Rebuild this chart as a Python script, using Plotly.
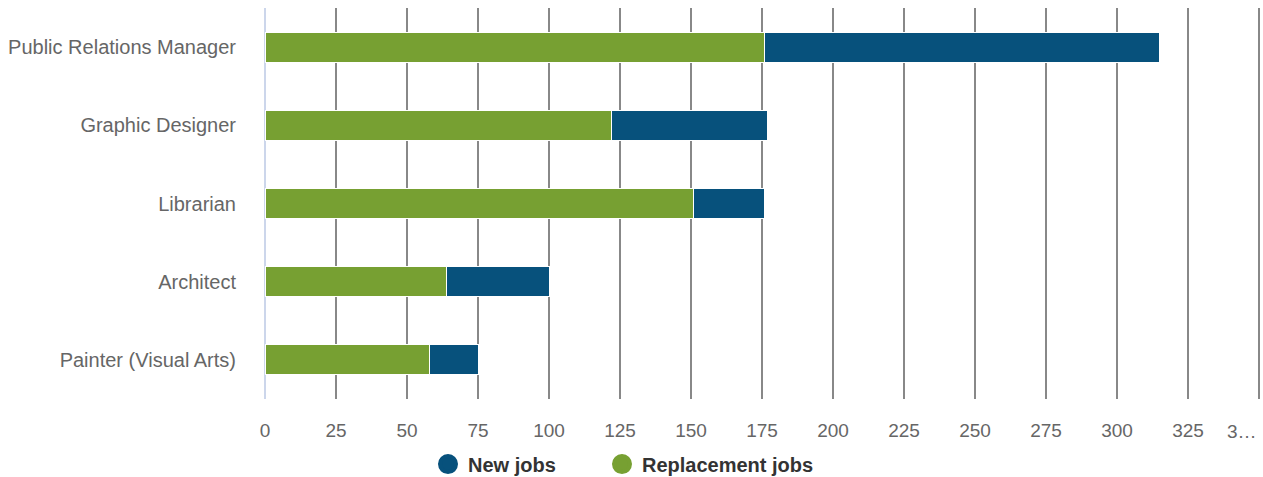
import plotly.graph_objects as go

occupations = [
    "Public Relations Manager",
    "Graphic Designer",
    "Librarian",
    "Architect",
    "Painter (Visual Arts)",
]
replacement_jobs = [176, 122, 151, 64, 58]
new_jobs = [139, 55, 25, 36, 17]

tick_values = list(range(0, 351, 25))
tick_labels = [str(v) for v in tick_values[:-1]] + [""]
last_tick_label = "3…"

GREEN = "#77a032"
BLUE = "#07517c"
FONT = "Liberation Sans, Arial, sans-serif"
W, H = 1263, 477

fig = go.Figure()

fig.add_trace(go.Bar(
    y=occupations, x=replacement_jobs, orientation="h", name="Replacement jobs",
    marker=dict(color=GREEN, line=dict(color="#ffffff", width=1)),
    showlegend=False, hoverinfo="x+y",
))
fig.add_trace(go.Bar(
    y=occupations, x=new_jobs, orientation="h", name="New jobs",
    marker=dict(color=BLUE, line=dict(color="#ffffff", width=1)),
    showlegend=False, hoverinfo="x+y",
))

# legend entries with round symbols, one legend box per entry
for name, color, leg in [("New jobs", BLUE, "legend"), ("Replacement jobs", GREEN, "legend2")]:
    fig.add_trace(go.Scatter(
        x=[None], y=[None], mode="markers", name=name,
        marker=dict(color=color, size=16, symbol="circle",
                    line=dict(color=color, width=4)),
        showlegend=True, legend=leg,
    ))

legend_style = dict(
    orientation="h",
    xref="container", yref="container",
    xanchor="left", y=0.027, yanchor="middle",
    font=dict(family=FONT, size=20, color="#333333", weight="bold"),
    itemsizing="trace",
    bgcolor="rgba(0,0,0,0)",
)

fig.update_layout(
    width=W, height=H,
    margin=dict(l=265, r=2, t=8, b=78, autoexpand=False),
    barmode="stack",
    bargap=0.615,
    plot_bgcolor="#ffffff",
    paper_bgcolor="#ffffff",
    font=dict(family=FONT, size=19, color="#666666"),
    xaxis=dict(
        range=[0, 350.7],
        tickvals=tick_values,
        ticktext=tick_labels,
        tickangle=0,
        showgrid=True, gridcolor="#888888", gridwidth=2,
        zeroline=True, zerolinecolor="#ccd6eb", zerolinewidth=2,
        showline=False, ticks="",
        ticklabelstandoff=18,
        tickfont=dict(size=19, color="#666666"),
        fixedrange=True,
    ),
    yaxis=dict(
        autorange="reversed",
        showgrid=False, zeroline=False, showline=False, ticks="",
        ticklabelstandoff=28,
        tickfont=dict(size=20, color="#666666"),
        fixedrange=True,
    ),
    legend=dict(legend_style, x=(448 - 20) / W),
    legend2=dict(legend_style, x=(622 - 20) / W),
)

# truncated label for the last tick, kept inside the chart edge
fig.add_annotation(
    x=tick_values[-1], xref="x", xanchor="right",
    y=0, yref="paper", yanchor="middle", yshift=-32,
    text=last_tick_label, showarrow=False,
    font=dict(family=FONT, size=19, color="#666666"),
)

fig.write_html("out.html")
